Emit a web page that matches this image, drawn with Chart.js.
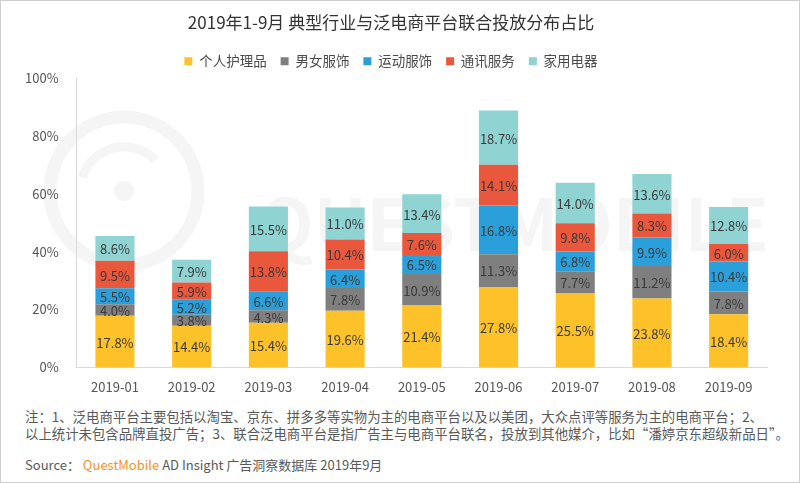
<!DOCTYPE html>
<html>
<head>
<meta charset="utf-8">
<script src="https://cdn.jsdelivr.net/npm/chart.js@4"></script>
<style>
  html, body { margin: 0; padding: 0; background: #fff; }
  .frame { position: relative; width: 798px; height: 481px; border: 1px solid #cfcfcf; overflow: hidden; font-family: "Noto Sans CJK SC", "Noto Sans", sans-serif; }
  .chart-box { position: absolute; left: 0; top: 0; width: 798px; height: 398px; }
  .note { position: absolute; left: 24px; top: 407px; font-size: 13.4px; color: #595959; white-space: nowrap; }
  .note div { height: 17px; line-height: 17px; }
  .source { position: absolute; left: 24px; top: 454px; font-size: 13px; color: #595959; }
  .source b { color: #f7931e; font-weight: normal; }
</style>
</head>
<body>
<div class="frame">
  <div class="chart-box"><canvas id="barChart"></canvas></div>
  <div class="note">
    <div>注：1、泛电商平台主要包括以淘宝、京东、拼多多等实物为主的电商平台以及以美团，大众点评等服务为主的电商平台；2、</div>
    <div>以上统计未包含品牌直投广告；3、联合泛电商平台是指广告主与电商平台联名，投放到其他媒介，比如“潘婷京东超级新品日”。</div>
  </div>
  <div class="source">Source：&nbsp;<b>QuestMobile</b> AD Insight 广告洞察数据库 2019年9月</div>
</div>
<script>
const months = ['2019-01', '2019-02', '2019-03', '2019-04', '2019-05', '2019-06', '2019-07', '2019-08', '2019-09'];
const personalCare = [17.8, 14.4, 15.4, 19.6, 21.4, 27.8, 25.5, 23.8, 18.4];
const apparel = [4.0, 3.8, 4.3, 7.8, 10.9, 11.3, 7.7, 11.2, 7.8];
const sportswear = [5.5, 5.2, 6.6, 6.4, 6.5, 16.8, 6.8, 9.9, 10.4];
const telecom = [9.5, 5.9, 13.8, 10.4, 7.6, 14.1, 9.8, 8.3, 6.0];
const appliances = [8.6, 7.9, 15.5, 11.0, 13.4, 18.7, 14.0, 13.6, 12.8];
const yTicks = [0, 20, 40, 60, 80, 100];

const font = '"Noto Sans CJK SC", "Noto Sans", sans-serif';

// faint logo watermark behind the bars
const watermark = {
  id: 'watermark',
  beforeDraw(chart) {
    const ctx = chart.ctx;
    ctx.save();
    ctx.strokeStyle = '#f5f5f5';
    ctx.fillStyle = '#f5f5f5';
    ctx.lineWidth = 13;
    ctx.beginPath();
    ctx.arc(123, 190, 74, 0, Math.PI * 2);
    ctx.stroke();
    ctx.lineWidth = 9;
    ctx.beginPath();
    ctx.arc(123, 190, 44, Math.PI * 1.1, Math.PI * 1.75);
    ctx.stroke();
    ctx.beginPath();
    ctx.arc(123, 190, 10, 0, Math.PI * 2);
    ctx.fill();
    ctx.font = 'bold 71px ' + font;
    ctx.textBaseline = 'alphabetic';
    ctx.fillText('QUESTMOBILE', 258, 250);
    ctx.restore();
  }
};

// value labels in the middle of each segment
const segmentLabels = {
  id: 'segmentLabels',
  afterDatasetsDraw(chart) {
    const ctx = chart.ctx;
    ctx.save();
    ctx.font = '13px ' + font;
    ctx.fillStyle = '#3a3a3a';
    ctx.textAlign = 'center';
    ctx.textBaseline = 'middle';
    chart.data.datasets.forEach((ds, i) => {
      chart.getDatasetMeta(i).data.forEach((bar, j) => {
        const mid = (bar.y + bar.base) / 2;
        ctx.fillText(ds.data[j].toFixed(1) + '%', bar.x, mid + 1);
      });
    });
    ctx.restore();
  }
};

const series = [
  { label: '个人护理品', data: personalCare, backgroundColor: '#fdc22a' },
  { label: '男女服饰', data: apparel, backgroundColor: '#7f7f7f' },
  { label: '运动服饰', data: sportswear, backgroundColor: '#2b9fd9' },
  { label: '通讯服务', data: telecom, backgroundColor: '#e9573c' },
  { label: '家用电器', data: appliances, backgroundColor: '#8fd3d3' }
];

new Chart(document.getElementById('barChart'), {
  type: 'bar',
  data: {
    labels: months,
    datasets: series.map((s) => ({ ...s, barPercentage: 0.51, categoryPercentage: 1 }))
  },
  options: {
    responsive: true,
    maintainAspectRatio: false,
    animation: false,
    layout: { padding: { left: 14, right: 32, top: 0, bottom: 0 } },
    plugins: {
      title: {
        display: true,
        text: '2019年1-9月 典型行业与泛电商平台联合投放分布占比',
        color: '#333',
        font: { family: font, size: 17, weight: 'normal' },
        padding: { top: 11, bottom: 8 }
      },
      legend: {
        position: 'top',
        labels: {
          color: '#4a4a4a',
          font: { family: font, size: 13.5 },
          boxWidth: 8,
          boxHeight: 8,
          padding: 14
        }
      },
      tooltip: { enabled: false }
    },
    scales: {
      x: {
        stacked: true,
        grid: { display: false },
        border: { color: '#d9d9d9' },
        ticks: { color: '#555', font: { family: font, size: 13 }, padding: 4 }
      },
      y: {
        stacked: true,
        min: 0,
        max: 100,
        afterBuildTicks: (axis) => { axis.ticks = yTicks.map((v) => ({ value: v })); },
        grid: { display: false },
        border: { color: '#d9d9d9' },
        ticks: { color: '#555', font: { family: font, size: 13 }, padding: 10, callback: (v) => v + '%' }
      }
    }
  },
  plugins: [watermark, segmentLabels]
});
</script>
</body>
</html>
